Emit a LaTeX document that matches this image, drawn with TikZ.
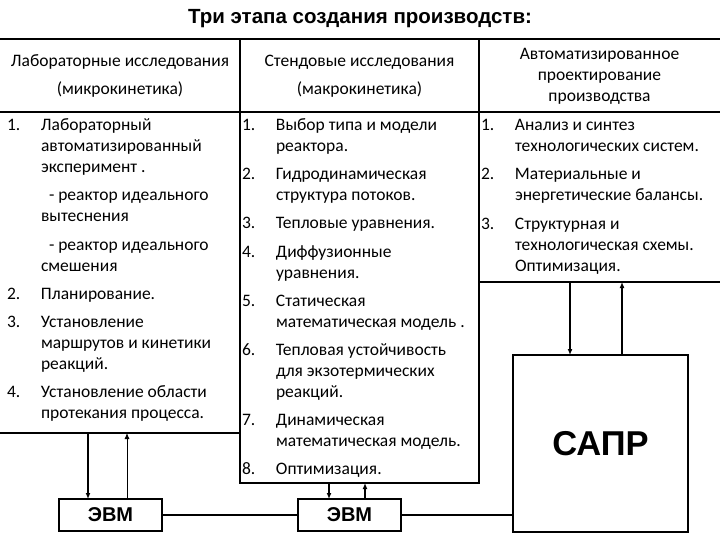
\documentclass[tikz,border=0pt]{standalone}
\usepackage{fontspec}
\setmainfont{Carlito}
\newfontfamily\arialfont{Liberation Sans}
\usetikzlibrary{arrows.meta,positioning}

\newcommand{\nr}[1]{\makebox[34pt][l]{#1}}
\newcommand{\ind}{\hspace*{34pt}}

\begin{document}
\begin{tikzpicture}[x=1pt, y=-1pt, >={Latex[length=6pt,width=5pt]},
	every node/.style={inner sep=0pt, outer sep=0pt},
	entry/.style={anchor=base west, align=left, font=\fontsize{17.5}{21}\selectfont},
	head/.style={anchor=base, align=center, font=\fontsize{17.5}{21}\selectfont},
	pcbox/.style={draw, line width=1.1pt, minimum width=103pt, minimum height=32pt, font=\arialfont\bfseries\fontsize{20}{20}\selectfont},
	rule/.style={line width=1.2pt}]
	\useasboundingbox (0,0) rectangle (720,540);
	\node[anchor=base, font=\arialfont\bfseries\fontsize{20.5}{20.5}\selectfont] (title) at (360,24) {Три этапа создания производств:};

	% table lines
	\draw[rule] (0,39) -- (720,39);
	\draw[rule] (0,112) -- (720,112);
	\draw[rule] (0,433) -- (240,433);
	\draw[rule] (479,282) -- (720,282);
	\draw[rule] (240,39) -- (240,483) -- (479,483) -- (479,39);
	\coordinate (labbot) at (0,433);
	\coordinate (stbot) at (240,483);
	\coordinate (avbot) at (479,282);

	% headers (placed by their last line)
	\node[head] (h1) at (120,95) {Лабораторные исследования\\[7pt](микрокинетика)};
	\node[head] (h2) at (359.5,95) {Стендовые исследования\\[7pt](макрокинетика)};
	\node[head] (h3) at (599.5,102) {Автоматизированное\\проектирование\\производства};

	% column 1 (placed by the last line of each entry)
	\node[entry] (lab1) at (7,173) {\nr{1.}Лабораторный\\\ind автоматизированный\\\ind эксперимент .};
	\node[entry] (lab2) at (7,222) {\ind\hspace*{8pt}- реактор идеального\\\ind вытеснения};
	\node[entry] (lab3) at (7,271) {\ind\hspace*{8pt}- реактор идеального\\\ind смешения};
	\node[entry] (lab4) at (7,299) {\nr{2.}Планирование.};
	\node[entry] (lab5) at (7,369) {\nr{3.}Установление\\\ind маршрутов и кинетики\\\ind реакций.};
	\node[entry] (lab6) at (7,418) {\nr{4.}Установление области\\\ind протекания процесса.};

	% column 2
	\node[entry] (st1) at (242,152) {\nr{1.}Выбор типа и модели\\\ind реактора.};
	\node[entry] (st2) at (242,201) {\nr{2.}Гидродинамическая\\\ind структура потоков.};
	\node[entry] (st3) at (242,229) {\nr{3.}Тепловые уравнения.};
	\node[entry] (st4) at (242,278) {\nr{4.}Диффузионные\\\ind уравнения.};
	\node[entry] (st5) at (242,327) {\nr{5.}Статическая\\\ind математическая модель .};
	\node[entry] (st6) at (242,397) {\nr{6.}Тепловая устойчивость\\\ind для экзотермических\\\ind реакций.};
	\node[entry] (st7) at (242,446) {\nr{7.}Динамическая\\\ind математическая модель.};
	\node[entry] (st8) at (242,474) {\nr{8.}Оптимизация.};

	% column 3
	\node[entry] (av1) at (481,152) {\nr{1.}Анализ и синтез\\\ind технологических систем.};
	\node[entry] (av2) at (481,201) {\nr{2.}Материальные и\\\ind энергетические балансы.};
	\node[entry] (av3) at (481,271) {\nr{3.}Структурная и\\\ind технологическая схемы.\\\ind Оптимизация.};

	% computers
	\node[pcbox] (evm1) at (110.5,515) {ЭВМ};
	\node[pcbox] (evm2) at (349.5,515) {ЭВМ};
	\node[draw, line width=1.1pt, minimum width=175pt, minimum height=177pt, font=\arialfont\bfseries\fontsize{34.5}{34.5}\selectfont] (sapr) at (600.5,443.5) {САПР};

	\draw[line width=1.1pt] (evm1) -- (evm2);
	\draw[line width=1.1pt] (evm2.east) -- (evm2.east -| sapr.west);

	\draw[->, line width=1.8pt] ([xshift=-22.5pt]evm1.north |- labbot) -- ([xshift=-22.5pt]evm1.north);
	\draw[->, line width=0.9pt] ([xshift=16.5pt]evm1.north) -- ([xshift=16.5pt]evm1.north |- labbot);
	\draw[->, line width=1.2pt] ([xshift=-20.5pt]evm2.north |- stbot) -- ([xshift=-20.5pt]evm2.north);
	\draw[->, line width=1.2pt] ([xshift=15.5pt]evm2.north) -- ([xshift=15.5pt]evm2.north |- stbot);
	\draw[->, line width=1.5pt] ([xshift=-30.5pt]sapr.north |- avbot) -- ([xshift=-30.5pt]sapr.north);
	\draw[->, line width=1.5pt] ([xshift=21.5pt]sapr.north) -- ([xshift=21.5pt]sapr.north |- avbot);
\end{tikzpicture}
\end{document}
